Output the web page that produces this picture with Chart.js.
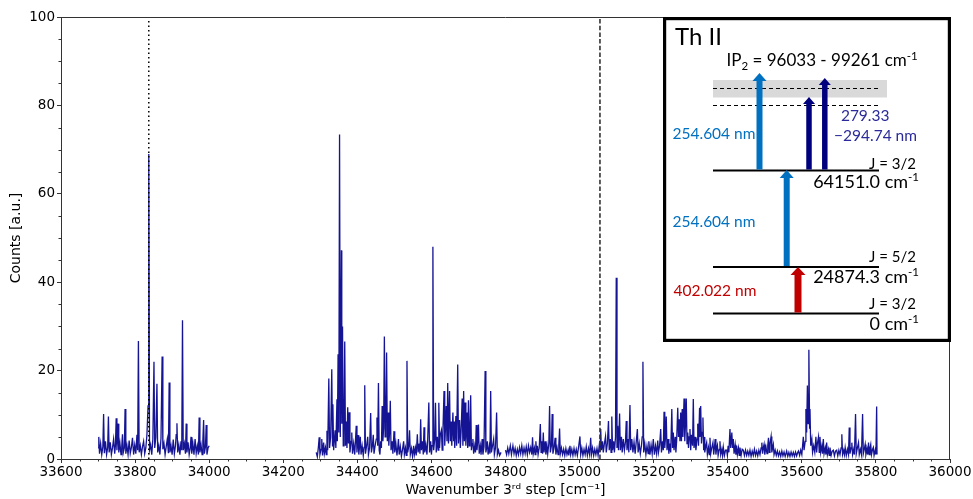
<!DOCTYPE html>
<html>
<head>
<meta charset="utf-8">
<script src="https://cdn.jsdelivr.net/npm/chart.js@4.4.1/dist/chart.umd.min.js"></script>
<style>
  html, body { margin: 0; padding: 0; background: #ffffff; }
  #wrap { width: 973px; height: 499px; }
</style>
</head>
<body>
<div id="wrap"><canvas id="c" width="973" height="499"></canvas></div>
<script>
// ---------------- DATA ----------------
// Wavenumber (cm^-1), counts (a.u.) pairs, three scan segments
const segmentA = [
  [33700,2.5],[33702,5],[33704,1.2],[33707,3.5],[33710,1.0],[33713,2.8],[33715,10.2],[33717,1.3],[33720,4],[33723,1.0],
  [33726,2.6],[33728,9.6],[33730,1.5],[33733,3.8],[33736,1.0],[33739,2.5],[33742,4.5],[33745,1.2],[33747,3.2],[33749,9.2],
  [33751,2.0],[33754,8],[33756,1.5],[33759,3.6],[33762,1.0],[33764,2.8],[33766,5.6],[33768,1.4],[33771,2.5],[33773,11.3],
  [33775,1.2],[33778,3.0],[33781,1.0],[33784,4.2],[33787,1.3],[33790,2.6],[33793,4.8],[33796,1.0],[33799,3.2],[33802,1.2],
  [33805,5.5],[33807,2.0],[33809,26.7],[33811,1.5],[33814,3.0],[33817,1.0],[33820,2.8],[33823,4.0],[33826,1.2],[33829,2.5],
  [33832,5.5],[33835,12],[33837,69],[33839,2.0],[33842,3.2],[33845,1.0],[33848,4.5],[33851,22],[33853,2.5],[33856,4.8],
  [33859,17],[33861,1.5],[33864,3.0],[33867,1.0],[33870,4.8],[33873,23.2],[33875,2.2],[33878,3.5],[33881,1.0],[33884,2.8],
  [33887,4.5],[33890,1.3],[33892,17.3],[33894,1.5],[33897,3.0],[33900,1.0],[33903,4.4],[33906,1.2],[33909,3.0],[33911,5.5],
  [33913,8.1],[33915,1.5],[33918,3.2],[33921,1.0],[33924,4.0],[33926,2.0],[33928,31.4],[33930,2.0],[33933,3.5],[33936,1.2],
  [33938,8],[33940,1.5],[33943,3.8],[33946,1.0],[33949,2.6],[33951,5],[33953,1.2],[33956,3.5],[33959,1.0],[33962,4.5],
  [33965,1.3],[33968,3.0],[33971,1.0],[33973,9.4],[33975,1.5],[33978,3.2],[33981,1.0],[33983,4.2],[33985,8.8],[33987,1.2],
  [33990,2.8],[33992,7.7],[33994,1.0],[33997,2.5],[34000,3]
];
const segmentB = [
  [34289,1.5],[34292,0.5],[34295,2.8],[34297,4.9],[34299,1.0],[34302,2.2],[34304,4.5],[34306,0.8],[34309,3.7],[34311,1.2],
  [34314,2.6],[34316,1.0],[34318,6.4],[34320,2.0],[34323,18.2],[34325,2.5],[34328,5.0],[34331,20.3],[34333,3.0],[34334,12.4],
  [34336,2.0],[34338,4.2],[34340,6.5],[34342,2.5],[34345,13.5],[34346,4.0],[34348,23.7],[34350,6.0],[34352,73.4],[34354,5.0],
  [34357,47.2],[34358,8.0],[34360,30],[34362,3.0],[34364,5.0],[34366,26.6],[34368,3.0],[34370,8.5],[34372,2.5],[34374,11.7],
  [34376,3.5],[34378,10.6],[34380,1.5],[34383,4.0],[34385,6],[34387,1.2],[34390,3.5],[34393,1.0],[34395,4.2],[34397,7.5],
  [34399,1.5],[34402,5.4],[34404,1.0],[34406,2.8],[34408,5],[34410,1.0],[34413,3.0],[34416,0.8],[34418,2.6],[34420,16.7],
  [34422,1.2],[34425,3.0],[34428,5],[34430,1.0],[34433,2.5],[34436,10.4],[34438,1.5],[34441,3.2],[34443,5.5],[34445,1.2],
  [34448,3.0],[34451,4.5],[34453,9.4],[34455,3.0],[34457,17.2],[34459,2.0],[34461,1.0],[34463,4],[34465,2.5],[34467,12],
  [34469,4.0],[34471,7.0],[34473,27.7],[34475,5.0],[34477,8.0],[34479,24.1],[34481,4.0],[34483,10.5],[34485,3.0],[34487,6.0],
  [34489,13.2],[34491,2.0],[34494,4.0],[34496,1.2],[34499,6.3],[34501,1.5],[34504,3.5],[34507,0.8],[34509,2.5],[34511,4.5],
  [34513,1.0],[34516,2.8],[34519,0.6],[34522,2.2],[34525,4],[34527,1.0],[34530,2.5],[34532,0.8],[34534,22.2],[34536,1.5],
  [34539,3.0],[34541,6.5],[34543,1.0],[34546,2.4],[34549,0.6],[34552,3],[34554,1.0],[34557,2.5],[34559,0.8],[34562,5.6],
  [34564,1.5],[34567,3.5],[34569,1.2],[34571,9],[34573,2.0],[34576,4.0],[34578,1.0],[34580,7.2],[34582,1.5],[34585,3.2],
  [34588,1.0],[34590,4.5],[34593,12.8],[34595,1.5],[34598,4],[34600,1.0],[34602,3.0],[34604,48],[34606,2.0],[34609,4.5],
  [34611,12.7],[34613,1.5],[34616,5.0],[34618,2.0],[34620,12.7],[34622,2.5],[34624,5.5],[34627,6.5],[34629,2.0],[34631,6.0],
  [34634,15.4],[34636,3.0],[34638,7.0],[34640,12],[34642,4.0],[34644,17.2],[34646,3.5],[34649,15.4],[34651,4.0],[34653,8.5],
  [34655,3.0],[34658,10.5],[34660,4.0],[34661,8.5],[34663,2.5],[34666,9.7],[34668,3.0],[34671,21.4],[34673,3.5],[34676,8.8],
  [34678,2.5],[34680,6.0],[34683,13.7],[34685,3.0],[34687,15.4],[34689,4.0],[34691,12.8],[34693,3.0],[34696,10.5],[34698,2.5],
  [34700,13.3],[34702,3.0],[34704,6.0],[34706,14.4],[34708,2.0],[34710,3.5],[34712,4.5],[34714,1.2],[34717,3.0],[34719,1.5],
  [34721,7.7],[34723,2.0],[34725,4.0],[34727,7.8],[34729,1.2],[34732,3.0],[34734,1.0],[34737,4.5],[34739,1.0],[34742,2.8],
  [34745,19.9],[34747,1.5],[34749,2.5],[34751,4],[34753,1.0],[34756,2.8],[34758,1.2],[34760,15.4],[34762,1.5],[34765,3.0],
  [34768,4.5],[34770,1.0],[34773,2.5],[34776,10.5],[34778,1.0],[34781,2],[34784,0.8],[34788,1.5]
];
const segmentC = [
  [34800,2.0],[34803,1.0],[34806,2.5],[34809,1.2],[34813,3],[34816,1.0],[34820,3],[34823,1.2],[34826,2.4],[34829,0.8],
  [34832,2.2],[34835,1.0],[34838,2.6],[34841,1.2],[34844,3],[34847,1.0],[34850,2.5],[34853,1.2],[34856,2.8],[34859,1.0],
  [34862,3],[34865,1.5],[34868,2.6],[34871,1.0],[34873,4.9],[34875,1.2],[34878,2.5],[34880,1.0],[34882,4],[34884,1.5],
  [34886,3],[34888,1.0],[34891,2.5],[34894,7.9],[34896,1.5],[34898,4],[34900,1.2],[34902,6],[34904,1.5],[34907,4],
  [34909,1.0],[34912,3.0],[34914,1.2],[34917,3.5],[34919,12],[34921,1.5],[34924,3.0],[34926,10.2],[34928,1.2],[34931,2.5],
  [34934,4.8],[34936,1.0],[34939,2.6],[34942,1.0],[34944,3.2],[34946,6.9],[34948,1.2],[34951,2.5],[34954,1.0],[34957,2.2],
  [34960,0.8],[34963,2.4],[34966,1.0],[34969,2.0],[34971,0.8],[34974,3],[34976,1.0],[34979,2.2],[34982,0.8],[34985,2.4],
  [34988,1.0],[34991,2.2],[34994,0.8],[34997,2.5],[35001,5.1],[35003,1.0],[35006,2.5],[35009,0.8],[35012,2.2],[35015,1.0],
  [35018,2.8],[35021,0.8],[35024,2.4],[35027,1.0],[35030,4.8],[35032,1.0],[35035,2.5],[35038,0.8],[35041,2.2],[35044,1.0],
  [35047,2.4],[35050,0.8],[35053,3.0],[35055,1.5],[35057,6.8],[35059,2.0],[35062,4.0],[35064,1.5],[35067,3.5],[35070,5.1],
  [35072,1.5],[35075,3.5],[35078,8.6],[35080,2.0],[35083,4.5],[35085,1.5],[35087,9.6],[35089,2.0],[35092,4.0],[35094,1.5],
  [35097,5.0],[35099,41],[35101,2.5],[35103,7.5],[35105,2.0],[35108,10.3],[35110,2.0],[35113,5.0],[35115,1.5],[35118,4.5],
  [35121,2.0],[35124,4.0],[35126,8.6],[35128,2.0],[35131,4.5],[35133,1.5],[35136,12.2],[35138,2.0],[35141,4.5],[35144,1.5],
  [35147,3.8],[35150,1.2],[35153,4.0],[35156,6.8],[35158,1.5],[35161,3.5],[35164,1.2],[35167,3.0],[35169,5.0],[35171,22],
  [35173,1.5],[35176,3.5],[35179,1.0],[35182,3.0],[35185,1.2],[35187,4.0],[35190,1.0],[35193,3.2],[35196,1.2],[35199,4.5],
  [35202,1.0],[35205,3.0],[35208,1.2],[35211,4.2],[35213,1.5],[35216,3.0],[35219,6.8],[35221,1.5],[35224,4.0],[35226,2.0],
  [35228,10.7],[35230,2.5],[35232,5.0],[35234,9.6],[35236,2.0],[35239,4.5],[35241,1.2],[35244,3.5],[35246,1.5],[35249,11.3],
  [35251,2.5],[35253,6.0],[35255,2.0],[35258,5.0],[35260,1.5],[35262,4.0],[35265,11.6],[35267,5.0],[35269,9.0],[35271,4.0],
  [35273,10.5],[35275,4.0],[35277,11.3],[35279,5.0],[35282,13.7],[35284,4.0],[35286,8.0],[35288,13.7],[35290,3.5],[35292,6.0],
  [35294,2.5],[35296,5.0],[35298,6.8],[35300,2.0],[35302,5.5],[35305,3.0],[35307,13.6],[35309,2.5],[35312,5.0],[35314,2.0],
  [35317,4.5],[35319,8],[35321,3.0],[35324,11.6],[35325,5.0],[35327,12],[35329,3.5],[35331,6.0],[35333,9.4],[35335,2.0],
  [35336,5],[35338,1.5],[35341,3.0],[35343,3.7],[35345,1.0],[35348,2.6],[35350,1.0],[35352,4.8],[35354,1.2],[35357,2.6],
  [35360,3.7],[35362,1.0],[35364,2.5],[35366,4.5],[35368,1.0],[35370,2.4],[35372,3.1],[35374,0.8],[35377,2.2],[35379,4],
  [35381,1.0],[35384,2.2],[35386,0.8],[35388,2.7],[35391,0.8],[35394,2.0],[35397,2],[35399,0.8],[35401,3.0],[35403,1.5],
  [35406,6.8],[35408,2.5],[35411,6],[35413,2.5],[35415,4.5],[35417,1.2],[35420,3.2],[35422,1.0],[35424,3],[35426,1.0],
  [35429,2.5],[35431,0.8],[35433,2.6],[35436,0.8],[35439,2.2],[35442,2],[35445,0.8],[35448,2.0],[35451,0.8],[35454,1.8],
  [35457,0.8],[35460,2.0],[35463,0.6],[35466,1.8],[35469,0.8],[35472,2.2],[35475,0.8],[35478,1.8],[35481,0.7],[35484,2.0],
  [35487,1.0],[35490,2.5],[35492,3.7],[35494,1.2],[35496,2.5],[35498,3.3],[35500,1.0],[35503,2.8],[35506,1.2],[35508,3.0],
  [35510,4.8],[35512,1.5],[35514,3.5],[35517,5.1],[35519,1.5],[35521,2.5],[35523,3.3],[35525,1.0],[35528,2.0],[35531,0.8],
  [35534,1.8],[35537,0.7],[35540,1.6],[35543,0.6],[35546,1.8],[35549,0.7],[35552,1.6],[35555,0.6],[35559,1.8],[35562,0.6],
  [35565,1.5],[35568,0.6],[35571,1.6],[35574,0.7],[35577,1.5],[35580,0.6],[35583,1.6],[35586,0.7],[35589,1.5],[35591,1.8],
  [35594,0.8],[35597,2.0],[35600,1.0],[35602,3.0],[35604,5],[35606,2.0],[35609,4.0],[35611,11.3],[35613,6.0],[35615,16.6],
  [35617,8.0],[35619,24.7],[35621,7.0],[35622,11.3],[35624,3.0],[35627,4.5],[35629,1.5],[35632,3.0],[35635,1.5],[35638,5],
  [35640,1.5],[35642,3.5],[35645,5],[35647,1.5],[35649,5],[35651,1.5],[35654,3.0],[35656,1.2],[35658,4.5],[35660,1.2],
  [35663,2.5],[35665,1.0],[35667,3.7],[35669,1.0],[35672,2.2],[35674,0.8],[35676,2.6],[35679,0.8],[35682,1.8],[35685,2],
  [35688,0.7],[35691,1.8],[35694,2],[35697,0.7],[35700,2.0],[35703,1.0],[35706,2.5],[35708,5.6],[35710,1.0],[35713,2.0],
  [35715,1.0],[35717,2.6],[35720,0.8],[35723,2.2],[35726,1.0],[35728,7.1],[35730,1.2],[35733,2.5],[35735,3.7],[35737,1.0],
  [35740,2.2],[35742,1.0],[35745,10.2],[35747,1.2],[35750,2.5],[35753,3.7],[35755,1.0],[35758,2.2],[35761,1.0],[35764,10.2],
  [35766,1.2],[35769,2.4],[35771,3.3],[35773,1.0],[35776,2.2],[35778,1.0],[35780,3.7],[35782,1.0],[35784,2.5],[35786,3.3],
  [35788,1.0],[35791,2.2],[35793,2.6],[35795,0.8],[35798,2.0],[35800,1.0],[35802,11.9],[35803,1.0]
];
// Reference lines (cm^-1)
const dottedLineAt = 33837;
const dashedLineAt = 35055;
// Axis ticks
const xTicks = [33600, 33800, 34000, 34200, 34400, 34600, 34800, 35000, 35200, 35400, 35600, 35800, 36000];
const yTicks = [0, 20, 40, 60, 80, 100];
const xMinorStep = 50;
const yMinorStep = 5;

// ---------------- CHART ----------------
const AX = '#333333';
const tickFont = { family: 'DejaVu Sans', size: 13.5 };
const toXY = seg => seg.map(p => ({ x: p[0], y: p[1] }));
const spectrumStyle = {
  borderColor: 'rgba(0,0,139,0.92)', borderWidth: 1.3, pointRadius: 0, tension: 0, fill: false
};

const minorTicksAndFrame = {
  id: 'minorTicksAndFrame',
  afterDraw(chart) {
    const ctx = chart.ctx, a = chart.chartArea;
    const xs = chart.scales.x, ys = chart.scales.y;
    ctx.save();
    ctx.strokeStyle = AX; ctx.lineWidth = 1;
    ctx.beginPath();
    ctx.moveTo(a.left, a.top + 0.5); ctx.lineTo(a.right, a.top + 0.5);
    ctx.moveTo(a.right - 0.5, a.top); ctx.lineTo(a.right - 0.5, a.bottom);
    ctx.stroke();
    ctx.beginPath();
    for (let v = xs.min; v <= xs.max; v += xMinorStep) {
      if (xTicks.includes(v)) continue;
      const px = Math.round(xs.getPixelForValue(v)) + 0.5;
      ctx.moveTo(px, a.bottom); ctx.lineTo(px, a.bottom + 2.5);
    }
    for (let v = ys.min; v <= ys.max; v += yMinorStep) {
      if (yTicks.includes(v)) continue;
      const py = Math.round(ys.getPixelForValue(v)) + 0.5;
      ctx.moveTo(a.left, py); ctx.lineTo(a.left - 2.5, py);
    }
    ctx.stroke();
    ctx.restore();
    drawInset(ctx);
  }
};

function rich(ctx, parts, x, y, align, color) {
  ctx.fillStyle = color || '#000';
  ctx.textBaseline = 'alphabetic';
  let w = 0;
  parts.forEach(p => { ctx.font = p[1] + 'px Lato'; w += ctx.measureText(p[0]).width; });
  let cx = align === 'right' ? x - w : (align === 'center' ? x - w / 2 : x);
  parts.forEach(p => {
    ctx.font = p[1] + 'px Lato';
    ctx.textAlign = 'left';
    ctx.fillText(p[0], cx, y + (p[2] || 0));
    cx += ctx.measureText(p[0]).width;
  });
}

function arrow(ctx, x, yBase, yTip, color, shaftW, headW, headH) {
  ctx.fillStyle = color;
  ctx.fillRect(x - shaftW / 2, yTip + headH - 0.5, shaftW, yBase - yTip - headH + 0.5);
  ctx.beginPath();
  ctx.moveTo(x, yTip);
  ctx.lineTo(x + headW / 2, yTip + headH);
  ctx.lineTo(x - headW / 2, yTip + headH);
  ctx.closePath();
  ctx.fill();
}

function drawInset(ctx) {
  const LB = '#0070C0', NV = '#00007F', RD = '#C00000', TX2 = '#2A2A9A';
  ctx.save();
  ctx.fillStyle = '#ffffff';
  ctx.fillRect(663, 17, 288, 325);
  ctx.strokeStyle = '#000'; ctx.lineWidth = 3.2;
  ctx.strokeRect(664.6, 18.6, 284.8, 321.8);
  ctx.fillStyle = '#D9D9D9';
  ctx.fillRect(713, 80, 174, 17.5);
  ctx.strokeStyle = '#000'; ctx.lineWidth = 1.2; ctx.setLineDash([4, 3]);
  ctx.beginPath();
  ctx.moveTo(713, 88.5); ctx.lineTo(880, 88.5);
  ctx.moveTo(713, 105.5); ctx.lineTo(880, 105.5);
  ctx.stroke();
  ctx.setLineDash([]);
  ctx.lineWidth = 2;
  ctx.beginPath();
  ctx.moveTo(713, 170.5); ctx.lineTo(879, 170.5);
  ctx.moveTo(713, 267); ctx.lineTo(879, 267);
  ctx.moveTo(713, 313.5); ctx.lineTo(879, 313.5);
  ctx.stroke();
  arrow(ctx, 759.5, 169.5, 73, LB, 6, 14, 8);
  arrow(ctx, 786.7, 266, 170, LB, 6, 14, 8);
  arrow(ctx, 809, 169.5, 97, NV, 5.5, 12, 7);
  arrow(ctx, 824.8, 169.5, 78, NV, 5.5, 12, 7);
  arrow(ctx, 798, 312.5, 267, RD, 7, 15, 8);
  rich(ctx, [['Th II', 24]], 675, 45, 'left', '#000');
  rich(ctx, [['IP', 17], ['2', 11.5, 4], [' = 96033 - 99261 cm', 17], ['-1', 11.5, -6.5]], 726.5, 66, 'left', '#000');
  rich(ctx, [['J = 3/2', 15]], 916, 168.5, 'right', '#000');
  rich(ctx, [['64151.0', 18], [' cm', 18], ['-1', 11.5, -7]], 919, 188, 'right', '#000');
  rich(ctx, [['J = 5/2', 15]], 916, 261.5, 'right', '#000');
  rich(ctx, [['24874.3', 18], [' cm', 18], ['-1', 11.5, -7]], 919, 283, 'right', '#000');
  rich(ctx, [['J = 3/2', 15]], 916, 308.5, 'right', '#000');
  rich(ctx, [['0', 18], [' cm', 18], ['-1', 11.5, -7]], 919, 329.5, 'right', '#000');
  rich(ctx, [['254.604 nm', 15.5]], 672.5, 138.5, 'left', LB);
  rich(ctx, [['254.604 nm', 15.5]], 672.5, 227, 'left', LB);
  rich(ctx, [['402.022 nm', 15.5]], 673.5, 296, 'left', RD);
  rich(ctx, [['279.33', 15.5]], 889.5, 121, 'right', TX2);
  rich(ctx, [['\u2212294.74 nm', 15.5]], 917, 141, 'right', TX2);
  ctx.restore();
}

new Chart(document.getElementById('c'), {
  type: 'line',
  data: {
    datasets: [
      { data: [{ x: dottedLineAt, y: 0 }, { x: dottedLineAt, y: 100 }], borderColor: '#000', borderWidth: 1.5,
        borderDash: [1.5, 3], pointRadius: 0 },
      { data: [{ x: dashedLineAt, y: 0 }, { x: dashedLineAt, y: 100 }], borderColor: '#333', borderWidth: 1.6,
        borderDash: [4.5, 2.2], pointRadius: 0 },
      Object.assign({ data: toXY(segmentA) }, spectrumStyle),
      Object.assign({ data: toXY(segmentB) }, spectrumStyle),
      Object.assign({ data: toXY(segmentC) }, spectrumStyle)
    ]
  },
  options: {
    responsive: false,
    animation: false,
    devicePixelRatio: 1,
    parsing: false,
    normalized: true,
    layout: { padding: { top: 17, right: 23, left: 0, bottom: 0 } },
    plugins: { legend: { display: false }, tooltip: { enabled: false } },
    scales: {
      x: {
        type: 'linear', min: 33600, max: 36000,
        afterBuildTicks: s => { s.ticks = xTicks.map(v => ({ value: v })); },
        ticks: { font: tickFont, color: '#000', maxRotation: 0, autoSkip: false, padding: 1,
                 callback: v => String(v) },
        grid: { drawOnChartArea: false, drawTicks: true, tickLength: 4, color: AX },
        border: { color: AX, width: 1 },
        title: { display: true, text: 'Wavenumber 3\u02b3\u1d48 step [cm\u207b\u00b9]', color: '#000',
                 font: { family: 'DejaVu Sans', size: 14 }, padding: { top: 0, bottom: 0 } },
        afterFit: s => { s.height = 40; }
      },
      y: {
        min: 0, max: 100,
        afterBuildTicks: s => { s.ticks = yTicks.map(v => ({ value: v })); },
        ticks: { font: tickFont, color: '#000', padding: 2, callback: v => String(v) },
        grid: { drawOnChartArea: false, drawTicks: true, tickLength: 4, color: AX },
        border: { color: AX, width: 1 },
        title: { display: true, text: 'Counts [a.u.]', color: '#000',
                 font: { family: 'DejaVu Sans', size: 14 }, padding: { top: 8, bottom: 0 } },
        afterFit: s => { s.width = 61; }
      }
    }
  },
  plugins: [minorTicksAndFrame]
});
</script>
</body>
</html>
